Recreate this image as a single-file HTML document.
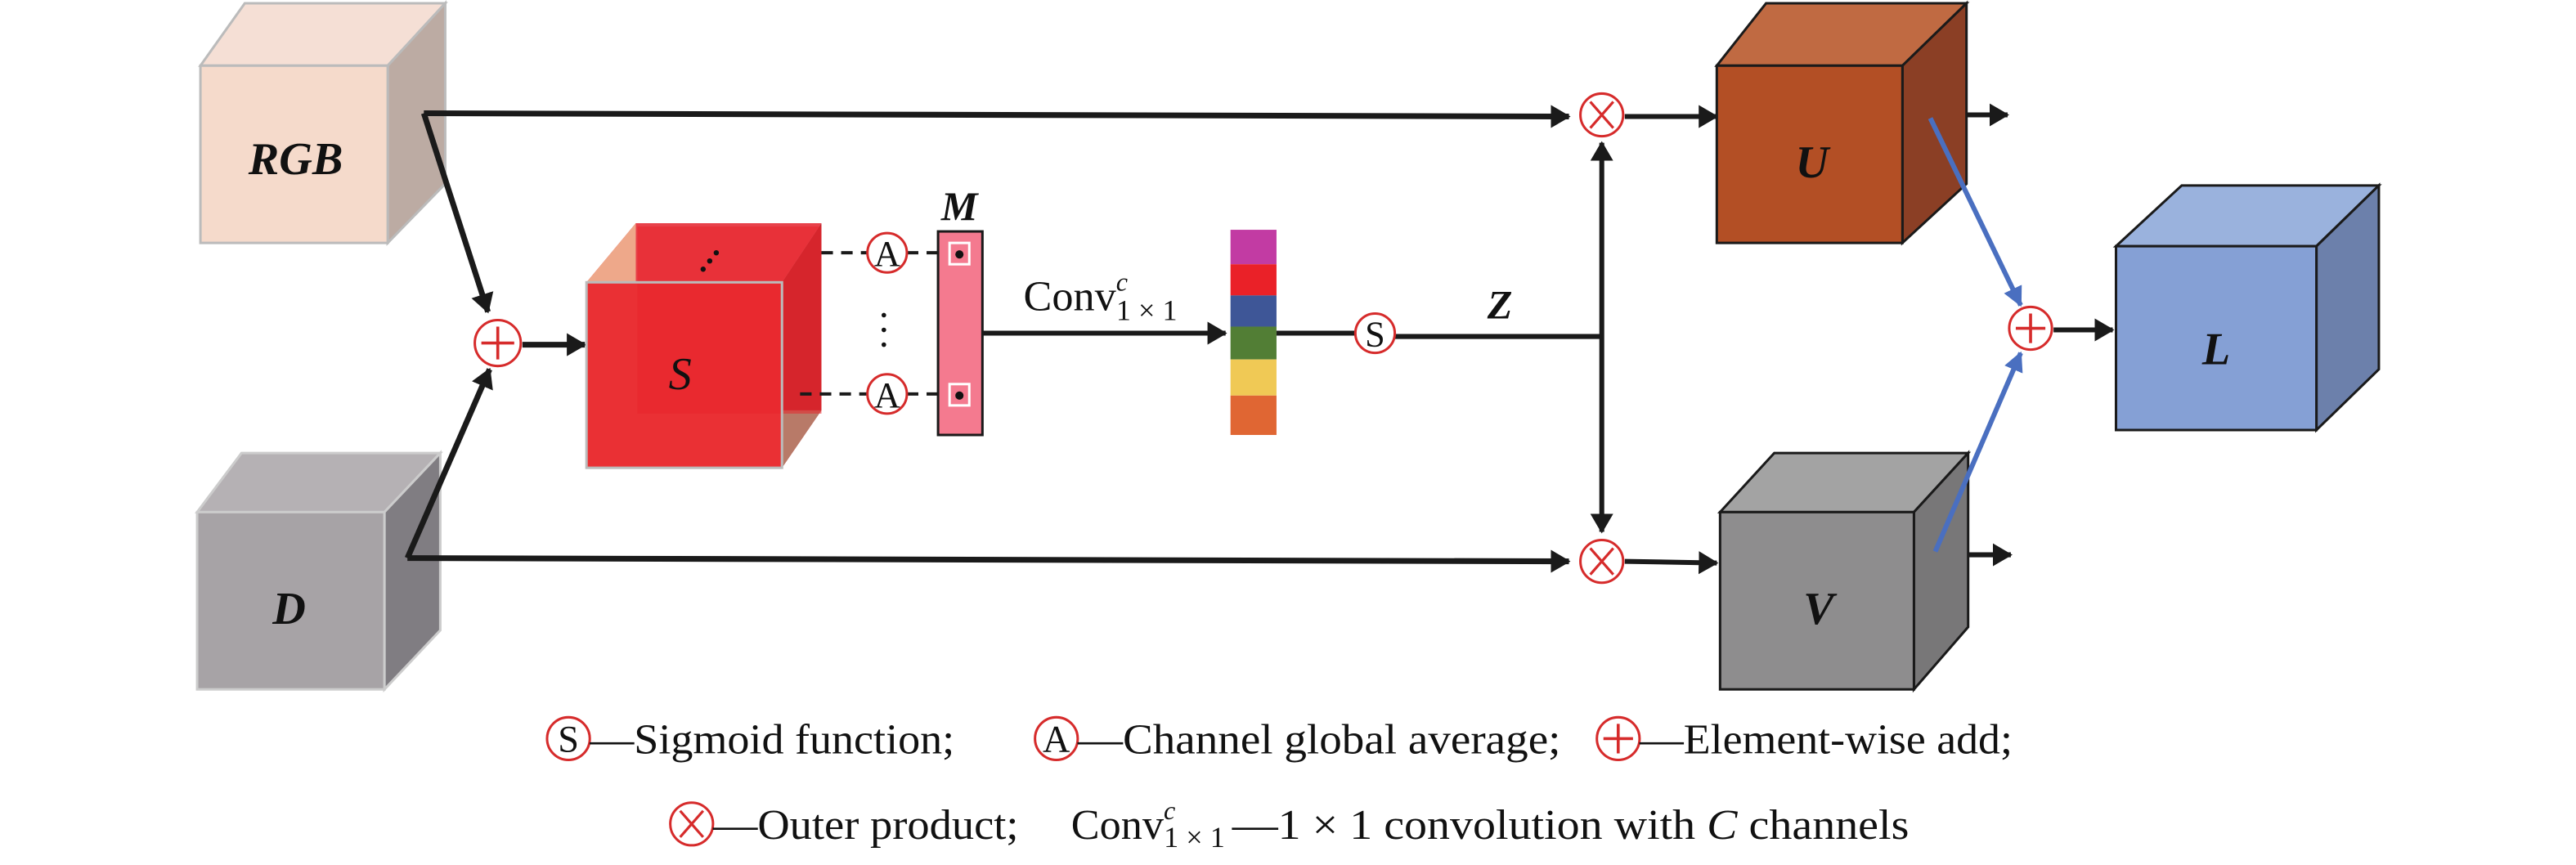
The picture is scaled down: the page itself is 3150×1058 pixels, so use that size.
<!DOCTYPE html>
<html><head><meta charset="utf-8"><style>
html,body{margin:0;padding:0;background:#fff;}
svg{display:block;}
text{font-family:"Liberation Serif",serif;fill:#111;}
</style></head><body>
<svg width="3150" height="1058" viewBox="0 0 1568 527" preserveAspectRatio="none" xmlns="http://www.w3.org/2000/svg">
<defs>
<marker id="ab" markerWidth="12" markerHeight="12" refX="11" refY="6" orient="auto" markerUnits="userSpaceOnUse"><path d="M0,0 L12,6 L0,12 z" fill="#4a6fc0"/></marker>
<marker id="ak" markerWidth="12" markerHeight="14" refX="11" refY="7" orient="auto" markerUnits="userSpaceOnUse"><path d="M0,0 L12,7 L0,14 z" fill="#1a1a1a"/></marker>
</defs>

<g stroke="#bbb" stroke-width="1.5">
<polygon points="122,40 149,2 271,2 236,40" fill="#f5dfd5"/>
<polygon points="236,40 271,2 271,112 236,148" fill="#bcaba3"/>
<rect x="122" y="40" width="114" height="108" fill="#f5dacb"/>
</g>
<text x="180" y="106" font-size="28" font-style="italic" font-weight="bold" text-anchor="middle">RGB</text>
<g stroke="#ccc" stroke-width="1.5">
<polygon points="120,312 147,276 268,276 234,312" fill="#b5b1b4"/>
<polygon points="234,312 268,276 268,384 234,420" fill="#807d82"/>
<rect x="120" y="312" width="114" height="108" fill="#a7a3a6"/>
</g>
<text x="176" y="380" font-size="28" font-style="italic" font-weight="bold" text-anchor="middle">D</text>

<g stroke="#1a1a1a" stroke-width="3.5" fill="none">
<polyline points="258,69 955,71" marker-end="url(#ak)"/>
<line x1="258" y1="69" x2="297" y2="190" marker-end="url(#ak)"/>
<polyline points="248,340 955,342" marker-end="url(#ak)"/>
<line x1="248" y1="340" x2="298" y2="225" marker-end="url(#ak)"/>
<line x1="318" y1="210" x2="356" y2="210" marker-end="url(#ak)"/>
</g>
<circle cx="303" cy="209" r="14" fill="#fff" stroke="#d62b2b" stroke-width="1.5"/>
<path d="M293,209 H313 M303,199 V219" stroke="#d62b2b" stroke-width="1.8"/>

<polygon points="357,172 387,136 500,136 476,172" fill="#e8414a"/>
<polygon points="357,172 387,136 387,172" fill="#eea88a"/>
<polygon points="476,172 500,136 500,250 476,285" fill="#c0262e"/>
<polygon points="476,250 500,250 476,285" fill="#b87a68"/>
<rect x="357" y="172" width="119" height="113" fill="#ea3034" stroke="#bbb" stroke-width="1"/>
<rect x="388" y="138" width="112" height="114" fill="#e8252b" fill-opacity="0.55"/>
<rect x="357" y="172" width="119" height="113" fill="none" stroke="#bbb" stroke-width="1.5"/>
<text x="414" y="237" font-size="28" font-style="italic" text-anchor="middle">S</text>
<circle cx="428" cy="164" r="1.6" fill="#111"/><circle cx="432" cy="159" r="1.6" fill="#111"/><circle cx="436" cy="154" r="1.6" fill="#111"/>
<circle cx="538" cy="192" r="1.4" fill="#111"/><circle cx="538" cy="201" r="1.4" fill="#111"/><circle cx="538" cy="210" r="1.4" fill="#111"/>

<g stroke="#1a1a1a" stroke-width="2" stroke-dasharray="7,5">
<line x1="500" y1="154" x2="528" y2="154"/><line x1="552" y1="154" x2="580" y2="154"/>
<line x1="487" y1="240" x2="528" y2="240"/><line x1="552" y1="240" x2="580" y2="240"/>
</g>
<circle cx="540" cy="154" r="12" fill="#fff" stroke="#d62b2b" stroke-width="1.5"/>
<text x="540" y="162" font-size="22" text-anchor="middle">A</text>
<circle cx="540" cy="240" r="12" fill="#fff" stroke="#d62b2b" stroke-width="1.5"/>
<text x="540" y="248" font-size="22" text-anchor="middle">A</text>

<rect x="571" y="141" width="27" height="124" fill="#f47a8f" stroke="#1a1a1a" stroke-width="1.5"/>
<rect x="578" y="148" width="12" height="13" fill="none" stroke="#fff" stroke-width="1.5"/>
<rect x="578" y="234" width="12" height="13" fill="none" stroke="#fff" stroke-width="1.5"/>
<circle cx="584" cy="155" r="2.5" fill="#111"/><circle cx="584" cy="241" r="2.5" fill="#111"/>
<text x="584" y="134" font-size="25" font-style="italic" font-weight="bold" text-anchor="middle">M</text>

<line x1="598" y1="203" x2="746" y2="203" stroke="#1a1a1a" stroke-width="3" marker-end="url(#ak)"/>
<text x="623" y="189" font-size="26">Conv<tspan font-size="16" font-style="italic" dy="-12">c</tspan><tspan font-size="18" dx="-7" dy="18">1 × 1</tspan></text>

<rect x="749" y="140" width="28" height="21" fill="#c23ba3"/>
<rect x="749" y="161" width="28" height="19" fill="#ea2128"/>
<rect x="749" y="180" width="28" height="19" fill="#3e5697"/>
<rect x="749" y="199" width="28" height="20" fill="#527e35"/>
<rect x="749" y="219" width="28" height="22" fill="#f0c955"/>
<rect x="749" y="241" width="28" height="24" fill="#e06633"/>

<g stroke="#1a1a1a" stroke-width="3" fill="none">
<line x1="777" y1="203" x2="825" y2="203"/>
<line x1="849" y1="205" x2="975" y2="205"/>
<line x1="975" y1="205" x2="975" y2="87" marker-end="url(#ak)"/>
<line x1="975" y1="205" x2="975" y2="324" marker-end="url(#ak)"/>
<line x1="989" y1="71" x2="1045" y2="71" marker-end="url(#ak)"/>
<line x1="989" y1="342" x2="1045" y2="343" marker-end="url(#ak)"/>
<line x1="1172" y1="70" x2="1222" y2="70" marker-end="url(#ak)"/>
<line x1="1175" y1="338" x2="1224" y2="338" marker-end="url(#ak)"/>
<line x1="1250" y1="201" x2="1286" y2="201" marker-end="url(#ak)"/>
</g>
<circle cx="837" cy="203" r="12" fill="#fff" stroke="#d62b2b" stroke-width="1.5"/>
<text x="837" y="211" font-size="22" text-anchor="middle">S</text>
<text x="913" y="194" font-size="25" font-style="italic" font-weight="bold" text-anchor="middle">Z</text>

<circle cx="975" cy="70" r="13" fill="#fff" stroke="#d62b2b" stroke-width="1.5"/>
<path d="M968,62 L982,78 M982,62 L968,78" stroke="#d62b2b" stroke-width="1.6"/>
<circle cx="975" cy="342" r="13" fill="#fff" stroke="#d62b2b" stroke-width="1.5"/>
<path d="M968,334 L982,350 M982,334 L968,350" stroke="#d62b2b" stroke-width="1.6"/>

<g stroke="#1a1a1a" stroke-width="1.5">
<polygon points="1045,40 1075,2 1197,2 1158,40" fill="#c06a42"/>
<polygon points="1158,40 1197,2 1197,112 1158,148" fill="#8b3f25"/>
<rect x="1045" y="40" width="113" height="108" fill="#b34f25"/>
</g>
<text x="1103" y="108" font-size="28" font-style="italic" font-weight="bold" text-anchor="middle">U</text>
<g stroke="#1a1a1a" stroke-width="1.5">
<polygon points="1047,312 1080,276 1198,276 1165,312" fill="#a3a3a3"/>
<polygon points="1165,312 1198,276 1198,382 1165,420" fill="#787778"/>
<rect x="1047" y="312" width="118" height="108" fill="#8e8d8e"/>
</g>
<text x="1107" y="380" font-size="28" font-style="italic" font-weight="bold" text-anchor="middle">V</text>
<g stroke="#1a1a1a" stroke-width="1.5">
<polygon points="1288,150 1328,113 1448,113 1410,150" fill="#9ab2dd"/>
<polygon points="1410,150 1448,113 1448,225 1410,262" fill="#6c80ab"/>
<rect x="1288" y="150" width="122" height="112" fill="#85a0d5"/>
</g>
<text x="1349" y="222" font-size="28" font-style="italic" font-weight="bold" text-anchor="middle">L</text>

<line x1="1175" y1="72" x2="1230" y2="186" stroke="#4a6fc0" stroke-width="3" marker-end="url(#ab)"/>
<line x1="1178" y1="336" x2="1230" y2="215" stroke="#4a6fc0" stroke-width="3" marker-end="url(#ab)"/>
<circle cx="1236" cy="200" r="13" fill="#fff" stroke="#d62b2b" stroke-width="1.5"/>
<path d="M1227,200 H1245 M1236,191 V209" stroke="#d62b2b" stroke-width="1.8"/>

<circle cx="346" cy="450" r="13" fill="#fff" stroke="#d62b2b" stroke-width="1.5"/>
<text x="346" y="458" font-size="23" text-anchor="middle">S</text>
<text x="359" y="459" font-size="26" textLength="222" lengthAdjust="spacingAndGlyphs">—Sigmoid function;</text>
<circle cx="643" cy="450" r="13" fill="#fff" stroke="#d62b2b" stroke-width="1.5"/>
<text x="643" y="458" font-size="23" text-anchor="middle">A</text>
<text x="656" y="459" font-size="26" textLength="294" lengthAdjust="spacingAndGlyphs">—Channel global average;</text>
<circle cx="985" cy="450" r="13" fill="#fff" stroke="#d62b2b" stroke-width="1.5"/>
<path d="M976,450 H994 M985,441 V459" stroke="#d62b2b" stroke-width="1.8"/>
<text x="998" y="459" font-size="26" textLength="227" lengthAdjust="spacingAndGlyphs">—Element-wise add;</text>
<circle cx="421" cy="502" r="13" fill="#fff" stroke="#d62b2b" stroke-width="1.5"/>
<path d="M414,494 L428,510 M428,494 L414,510" stroke="#d62b2b" stroke-width="1.6"/>
<text x="434" y="511" font-size="26" textLength="186" lengthAdjust="spacingAndGlyphs">—Outer product;</text>
<text x="652" y="511" font-size="26">Conv<tspan font-size="16" font-style="italic" dy="-12">c</tspan><tspan font-size="18" dx="-7" dy="17">1 × 1</tspan></text>
<text x="750" y="511" font-size="26" textLength="412" lengthAdjust="spacingAndGlyphs">—1 × 1 convolution with <tspan font-style="italic">C</tspan> channels</text>
</svg>
</body></html>
